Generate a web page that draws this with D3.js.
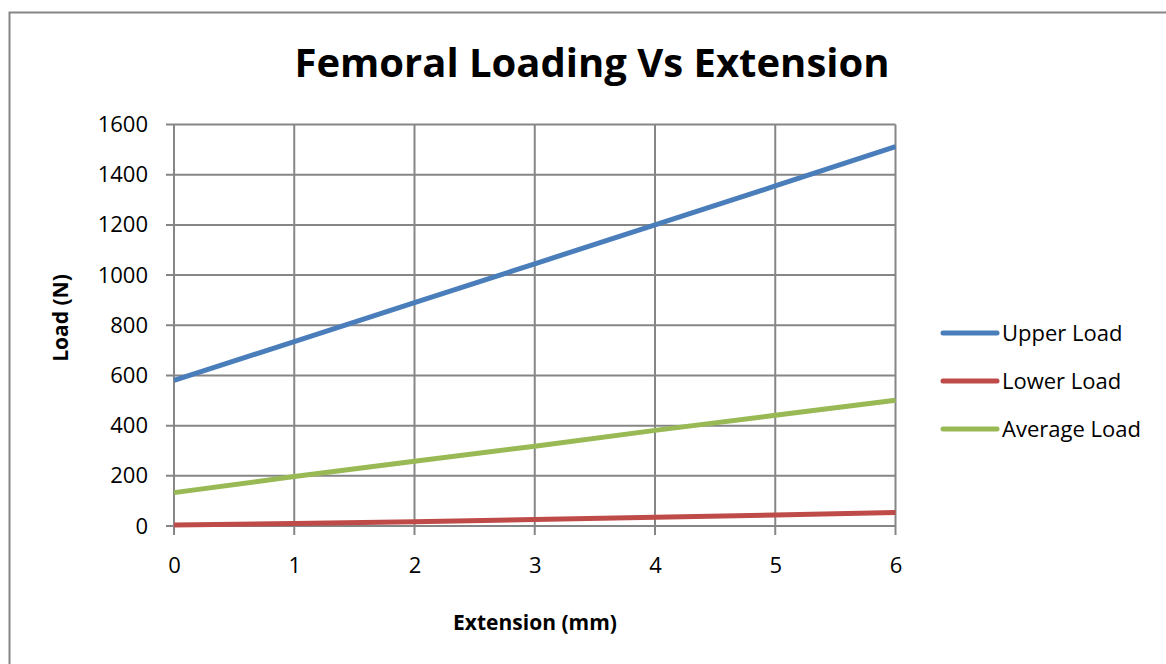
<!DOCTYPE html>
<html>
<head>
<meta charset="utf-8">
<script src="https://cdn.jsdelivr.net/npm/d3@7"></script>
<style>
  body { margin: 0; background: #fff; }
  text { font-family: "Open Sans", "Noto Sans", sans-serif; }
</style>
</head>
<body>
<div id="chart"></div>
<script>
const extension = [0, 1, 2, 3, 4, 5, 6];
const upperLoad = [580, 735, 890, 1045, 1200, 1355, 1512];
const lowerLoad = [4, 10, 17, 26, 35, 44, 54];
const averageLoad = [133, 197, 258, 318, 381, 441, 501];
const seriesNames = ["Upper Load", "Lower Load", "Average Load"];
const seriesColors = ["#4a7ebb", "#be4b48", "#98b954"];
const yTicks = [0, 200, 400, 600, 800, 1000, 1200, 1400, 1600];

const width = 1166, height = 664;
const plot = { left: 174, right: 895.5, top: 124.5, bottom: 526 };

const svg = d3.select("#chart")
    .append("svg")
    .attr("width", width)
    .attr("height", height);

// outer frame
svg.append("rect")
    .attr("x", 9.5).attr("y", 12.5)
    .attr("width", width + 10).attr("height", height + 10)
    .attr("fill", "#fff")
    .attr("stroke", "#868686")
    .attr("stroke-width", 2);

const xScale = d3.scaleLinear().domain([0, 6]).range([plot.left, plot.right]);
const yScale = d3.scaleLinear().domain([0, 1600]).range([plot.bottom, plot.top]);

// grid
const grid = svg.append("g").attr("stroke", "#868686").attr("stroke-width", 2);
grid.selectAll("line.h").data(yTicks).enter().append("line")
    .attr("x1", plot.left - 8).attr("x2", plot.right)
    .attr("y1", d => yScale(d)).attr("y2", d => yScale(d));
grid.selectAll("line.v").data(extension).enter().append("line")
    .attr("x1", d => xScale(d)).attr("x2", d => xScale(d))
    .attr("y1", plot.top).attr("y2", plot.bottom + 9);

// tick labels
const yAxis = svg.append("g")
    .attr("transform", `translate(${plot.left - 8},0)`)
    .call(d3.axisLeft(yScale).tickValues(yTicks).tickFormat(d3.format("d")).tickSize(0).tickPadding(18));
yAxis.select(".domain").remove();
yAxis.selectAll("text").style("font-size", "22px").attr("fill", "#000");

const xAxis = svg.append("g")
    .attr("transform", `translate(0,${plot.bottom})`)
    .call(d3.axisBottom(xScale).tickValues(extension).tickFormat(d3.format("d")).tickSize(0).tickPadding(31));
xAxis.select(".domain").remove();
xAxis.selectAll("text").style("font-size", "22px").attr("fill", "#000");

// lines
const allSeries = [upperLoad, lowerLoad, averageLoad];
const line = d3.line().x((d, i) => xScale(extension[i])).y(d => yScale(d));
svg.selectAll("path.series").data(allSeries).enter().append("path")
    .attr("class", "series")
    .attr("d", line)
    .attr("fill", "none")
    .attr("stroke", (d, i) => seriesColors[i])
    .attr("stroke-width", 5);

// legend
const legend = svg.selectAll("g.legend").data(seriesNames).enter().append("g")
    .attr("transform", (d, i) => `translate(943,${333 + i * 48})`);
legend.append("line")
    .attr("x1", 0).attr("x2", 54)
    .attr("stroke", (d, i) => seriesColors[i])
    .attr("stroke-width", 5)
    .attr("stroke-linecap", "round");
legend.append("text")
    .attr("x", 59).attr("dy", "0.35em")
    .style("font-size", "22px")
    .text(d => d);

// title
svg.append("text")
    .attr("x", 592).attr("y", 77)
    .attr("text-anchor", "middle")
    .style("font-size", "40px")
    .style("font-weight", "bold")
    .text("Femoral Loading Vs Extension");

svg.append("text")
    .attr("x", 535).attr("y", 630)
    .attr("text-anchor", "middle")
    .style("font-size", "21px")
    .style("font-weight", "bold")
    .text("Extension (mm)");

svg.append("text")
    .attr("transform", "rotate(-90)")
    .attr("x", -318).attr("y", 68)
    .attr("text-anchor", "middle")
    .style("font-size", "21px")
    .style("font-weight", "bold")
    .text("Load (N)");
</script>
</body>
</html>
